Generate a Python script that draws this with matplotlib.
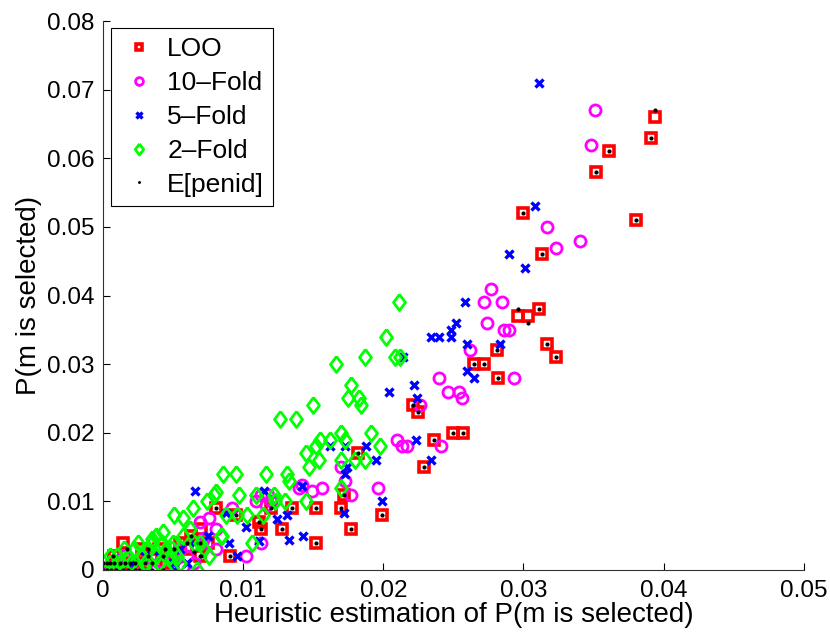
import numpy as np
import matplotlib
matplotlib.use("Agg")
import matplotlib.pyplot as plt

plt.rcParams['font.family'] = ['Liberation Sans', 'DejaVu Sans']

# LOO (red squares)
loo_x = [0.0394, 0.0391, 0.0361, 0.0352, 0.0380, 0.0300, 0.0313, 0.0311, 0.0296, 0.0303,
         0.0317, 0.0323, 0.0281, 0.0265, 0.0272, 0.0282, 0.0221, 0.0225, 0.0236, 0.0250,
         0.0257, 0.0229, 0.0182,
         0.0081, 0.0095, 0.0111, 0.0120, 0.0135, 0.0113, 0.0128, 0.0152, 0.0170, 0.0172,
         0.0177, 0.0152, 0.0199, 0.0091, 0.0069,
         0.0010, 0.0015, 0.0020, 0.0025, 0.0030, 0.0035, 0.0040, 0.0014, 0.0045, 0.0050,
         0.0055, 0.0060, 0.0063, 0.0070, 0.0075, 0.0005, 0.0008, 0.0028]
loo_y = [0.066, 0.063, 0.061, 0.058, 0.051, 0.052, 0.046, 0.038, 0.037, 0.037,
         0.033, 0.031, 0.032, 0.030, 0.030, 0.028, 0.024, 0.023, 0.019, 0.020,
         0.020, 0.015, 0.017,
         0.009, 0.008, 0.007, 0.009, 0.009, 0.006, 0.006, 0.009, 0.009, 0.011,
         0.006, 0.004, 0.008, 0.002, 0.002,
         0.001, 0.000, 0.001, 0.000, 0.001, 0.002, 0.003, 0.004, 0.001, 0.002,
         0.004, 0.003, 0.005, 0.006, 0.004, 0.000, 0.002, 0.003]

# 10-Fold (magenta circles)
f10_x = [0.0351, 0.0348, 0.0317, 0.0323, 0.0340, 0.0277, 0.0272, 0.0285, 0.0274, 0.0286,
         0.0290, 0.0262, 0.0293, 0.0240, 0.0246, 0.0254, 0.0256, 0.0226, 0.0210, 0.0213,
         0.0217, 0.0241, 0.0170,
         0.0140, 0.0156, 0.0177, 0.0196, 0.0173, 0.0109, 0.0113, 0.0120, 0.0092, 0.0081,
         0.0102, 0.0113, 0.0069, 0.0071, 0.0057, 0.0045, 0.0037, 0.0060, 0.0076, 0.0081,
         0.0142, 0.0149, 0.0118, 0.0116, 0.0072,
         0.0005, 0.0015, 0.0030, 0.0040, 0.0050, 0.0055, 0.0065]
f10_y = [0.067, 0.062, 0.050, 0.047, 0.048, 0.041, 0.039, 0.039, 0.036, 0.035,
         0.035, 0.032, 0.028, 0.028, 0.026, 0.026, 0.025, 0.024, 0.019, 0.018,
         0.018, 0.018, 0.015,
         0.012, 0.012, 0.011, 0.012, 0.013, 0.010, 0.011, 0.010, 0.009, 0.006,
         0.002, 0.004, 0.007, 0.004, 0.0005, 0.000, 0.000, 0.002, 0.0076, 0.003,
         0.0124, 0.0115, 0.0109, 0.0095, 0.0047,
         0.0005, 0.002, 0.0005, 0.001, 0.0015, 0.003, 0.001]

# 5-Fold (blue crosses)
f5_x = [0.0311, 0.0308, 0.0290, 0.0301, 0.0258, 0.0252, 0.0248, 0.0248, 0.0240, 0.0234,
        0.0260, 0.0283, 0.0260, 0.0265, 0.0214, 0.0204, 0.0222, 0.0224, 0.0223, 0.0234,
        0.0188, 0.0195, 0.0162, 0.0173, 0.0174, 0.0173,
        0.0066, 0.0090, 0.0096, 0.0111, 0.0133, 0.0143, 0.0172, 0.0199, 0.0142, 0.0115,
        0.0124, 0.0102, 0.0088, 0.0131, 0.0051, 0.0050,
        0.0020, 0.0030, 0.0040, 0.0055, 0.0065, 0.0075, 0.0060]
f5_y = [0.071, 0.053, 0.046, 0.044, 0.039, 0.036, 0.035, 0.034, 0.034, 0.034,
        0.033, 0.033, 0.029, 0.028, 0.031, 0.026, 0.027, 0.025, 0.019, 0.016,
        0.018, 0.016, 0.018, 0.018, 0.015, 0.014,
        0.0115, 0.004, 0.002, 0.0042, 0.0043, 0.0050, 0.0083, 0.0101, 0.0123, 0.0115,
        0.0075, 0.0063, 0.0083, 0.0080, 0.000, 0.001,
        0.001, 0.002, 0.002, 0.003, 0.004, 0.005, 0.001]

# 2-Fold (green diamonds)
f2_x = [0.0211, 0.0202, 0.0187, 0.0208, 0.0212, 0.0166, 0.0177, 0.0175, 0.0183, 0.0184,
        0.0150, 0.0126, 0.0138, 0.0191, 0.0170, 0.0162, 0.0155, 0.0173, 0.0198, 0.0145,
        0.0152, 0.0154, 0.0147, 0.0170, 0.0187, 0.0180,
        0.0086, 0.0095, 0.0116, 0.0131, 0.0133, 0.0079, 0.0097, 0.0109, 0.0122, 0.0170,
        0.0074, 0.0064, 0.0145, 0.0123, 0.0130, 0.0051, 0.0088, 0.0096, 0.0103, 0.0114,
        0.0085, 0.0084, 0.0106, 0.0038, 0.0045, 0.0049, 0.0062, 0.0057, 0.0065, 0.0069,
        0.0072, 0.0076, 0.0067, 0.0053, 0.0081, 0.0057, 0.0043, 0.0035,
        0.0002, 0.0005, 0.0008, 0.0010, 0.0012, 0.0015, 0.0018, 0.0020, 0.0022, 0.0025,
        0.0028, 0.0030, 0.0032, 0.0035, 0.0038, 0.0040, 0.0042, 0.0045, 0.0048, 0.0015,
        0.0005, 0.0025, 0.0035, 0.0030, 0.0050, 0.0055]
f2_y = [0.039, 0.034, 0.031, 0.031, 0.031, 0.030, 0.027, 0.025, 0.025, 0.024,
        0.024, 0.022, 0.022, 0.020, 0.020, 0.019, 0.019, 0.019, 0.018, 0.017,
        0.018, 0.016, 0.015, 0.016, 0.016, 0.016,
        0.014, 0.014, 0.014, 0.014, 0.013, 0.011, 0.011, 0.011, 0.011, 0.012,
        0.010, 0.009, 0.010, 0.010, 0.010, 0.008, 0.008, 0.008, 0.008, 0.008,
        0.005, 0.005, 0.004, 0.005, 0.003, 0.003, 0.006, 0.005, 0.004, 0.004,
        0.003, 0.002, 0.000, 0.002, 0.0114, 0.0076, 0.0055, 0.0045,
        0.000, 0.001, 0.000, 0.002, 0.001, 0.000, 0.002, 0.001, 0.003, 0.000,
        0.002, 0.001, 0.003, 0.000, 0.002, 0.001, 0.004, 0.000, 0.002, 0.003,
        0.002, 0.004, 0.004, 0.000, 0.004, 0.001]

# E[penid] (black dots)
pen_x = [0.0394, 0.0391, 0.0361, 0.0352, 0.0380, 0.0300, 0.0313, 0.0311, 0.0296, 0.0303,
         0.0317, 0.0323, 0.0281, 0.0265, 0.0272, 0.0282, 0.0221, 0.0225, 0.0236, 0.0250,
         0.0257, 0.0229, 0.0182,
         0.0081, 0.0095, 0.0111, 0.0120, 0.0135, 0.0113, 0.0128, 0.0152, 0.0170, 0.0172,
         0.0177, 0.0152, 0.0199, 0.0091, 0.0069,
         0.0000, 0.0003, 0.0005, 0.0008, 0.0012, 0.0016, 0.0019, 0.0023, 0.0030, 0.0035,
         0.0000, 0.0003, 0.0006, 0.0009, 0.0014, 0.0018, 0.0023, 0.0026, 0.0035, 0.0043,
         0.0007, 0.0032, 0.0043, 0.0017, 0.0032, 0.0044, 0.0051, 0.0060, 0.0063, 0.0069,
         0.0065, 0.0070]
pen_y = [0.067, 0.063, 0.061, 0.058, 0.051, 0.052, 0.046, 0.038, 0.038, 0.036,
         0.033, 0.031, 0.032, 0.030, 0.030, 0.028, 0.024, 0.023, 0.019, 0.020,
         0.020, 0.015, 0.017,
         0.009, 0.008, 0.007, 0.009, 0.009, 0.006, 0.006, 0.009, 0.009, 0.011,
         0.006, 0.004, 0.008, 0.002, 0.002,
         0.001, 0.001, 0.001, 0.001, 0.001, 0.001, 0.001, 0.001, 0.001, 0.001,
         0.000, 0.000, 0.000, 0.000, 0.000, 0.000, 0.000, 0.000, 0.000, 0.000,
         0.002, 0.002, 0.002, 0.003, 0.003, 0.003, 0.003, 0.004, 0.005, 0.004,
         0.0026, 0.002]

xticks = [0, 0.01, 0.02, 0.03, 0.04, 0.05]
yticks = [0, 0.01, 0.02, 0.03, 0.04, 0.05, 0.06, 0.07, 0.08]

# a diamond a bit taller than wide, like the original
diamond = [(0, 1), (0.75, 0), (0, -1), (-0.75, 0), (0, 1)]

fig = plt.figure(figsize=(8.3, 6.39), dpi=100)
ax = fig.add_axes([0.124, 0.108, 0.8445, 0.859])

ax.plot(loo_x, loo_y, 's', ms=6.5, mew=2.6, mec='#ff0000', mfc='none', label='LOO')
ax.plot(f10_x, f10_y, 'o', ms=8.0, mew=2.0, mec='#ff00ff', mfc='none', label='10–Fold')
ax.plot(f5_x, f5_y, 'x', ms=6.0, mew=2.4, mec='#0000ff', label='5–Fold')
ax.plot(f2_x, f2_y, marker=diamond, ls='none', ms=11.5, mew=2.0, mec='#00ff00',
        mfc='none', label='2–Fold')
ax.plot(pen_x, pen_y, 'o', ms=3.0, mew=0, mfc='black', label='E[penid]')

ax.set_xlim(0, 0.05)
ax.set_ylim(0, 0.08)
ax.set_xticks(xticks)
ax.set_yticks(yticks)
ax.set_xticklabels(['0', '0.01', '0.02', '0.03', '0.04', '0.05'])
ax.set_yticklabels(['0', '0.01', '0.02', '0.03', '0.04', '0.05', '0.06', '0.07', '0.08'])
ax.tick_params(direction='in', length=5, width=0.8, labelsize=17.5, colors='black')
ax.tick_params(axis='x', pad=7)
ax.tick_params(axis='y', pad=6)

for s in ['top', 'right']:
    ax.spines[s].set_visible(False)
for s in ['left', 'bottom']:
    ax.spines[s].set_linewidth(0.8)
    ax.spines[s].set_color('#333333')

ax.set_xlabel('Heuristic estimation of P(m is selected)', fontsize=20, labelpad=0)
ax.set_ylabel('P(m is selected)', fontsize=20, labelpad=4)

leg = ax.legend(loc='upper left', bbox_to_anchor=(0.011, 0.987), fontsize=19,
                markerscale=0.7, handlelength=1.45, handletextpad=0.35,
                labelspacing=0.37, borderpad=0.35, borderaxespad=0,
                fancybox=False, framealpha=1)
leg.get_frame().set_edgecolor('black')
leg.get_frame().set_linewidth(0.8)

fig.savefig('out.png', dpi=100)
